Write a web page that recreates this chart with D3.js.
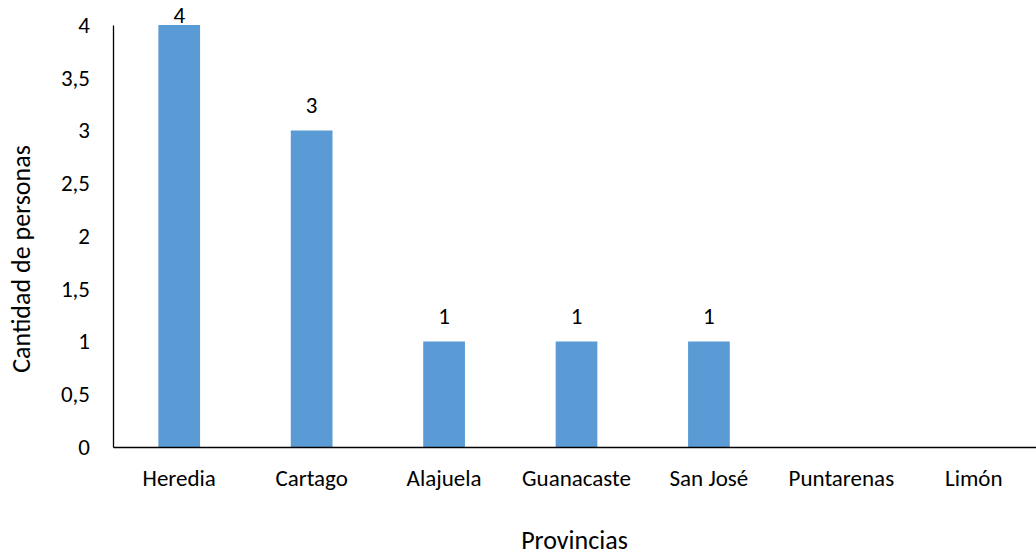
<!DOCTYPE html>
<html><head><meta charset="utf-8">
<script src="https://cdn.jsdelivr.net/npm/d3@7"></script>
<style>body{margin:0;background:#fff}svg{display:block}text{font-family:Carlito,Lato,"Open Sans",sans-serif;fill:#000}</style>
</head><body>
<script>
const categories = ["Heredia","Cartago","Alajuela","Guanacaste","San José","Puntarenas","Limón"];
const values = [4,3,1,1,1,0,0];
const yTicks = [0,0.5,1,1.5,2,2.5,3,3.5,4];
const xTitle = "Provincias";
const yTitle = "Cantidad de personas";

(function(){
const W = 1036, H = 558;
const mLeft = 113, mRight = 1040, mTop = 25, mBottom = 447;
const FF = "Carlito,Lato,'Open Sans',sans-serif";
const FS = 23, TS = 26;
const svg = d3.select("body").append("svg").attr("width", W).attr("height", H);

const x = d3.scaleBand().domain(categories).range([mLeft, mRight]).padding(0);
const y = d3.scaleLinear().domain([0, 4]).range([mBottom, mTop]);
const bw = x.bandwidth() * 0.315;

svg.selectAll("rect.bar").data(categories).join("rect")
  .attr("class","bar")
  .attr("x", (c) => x(c) + x.bandwidth()/2 - bw/2)
  .attr("width", bw)
  .attr("y", (c,i) => y(values[i]))
  .attr("height", (c,i) => y(0) - y(values[i]))
  .attr("fill", "#5B9BD5");

svg.selectAll("text.lbl").data(categories.filter((c,i) => values[i] > 0)).join("text")
  .attr("class","lbl")
  .attr("x", c => x(c) + x.bandwidth()/2)
  .attr("y", c => Math.max(y(values[categories.indexOf(c)]) - 18, 23))
  .attr("text-anchor","middle").attr("font-size", FS)
  .text(c => values[categories.indexOf(c)]);

const yAxis = d3.axisLeft(y).tickValues(yTicks).tickSize(0).tickPadding(23)
  .tickFormat(d => String(d).replace(".", ","));
const gy = svg.append("g").attr("transform", `translate(${mLeft},0)`).call(yAxis);
gy.select(".domain").attr("stroke","#000").attr("stroke-width",1.3);
gy.selectAll("text").attr("font-size", FS).style("font-family", FF);

const xAxis = d3.axisBottom(x).tickSize(0).tickPadding(23);
const gx = svg.append("g").attr("transform", `translate(0,${mBottom})`).call(xAxis);
gx.select(".domain").attr("stroke","#000").attr("stroke-width",1.3);
gx.selectAll("text").attr("font-size", FS).style("font-family", FF);

svg.append("text").attr("x", (mLeft + 1036)/2).attr("y", 549)
  .attr("text-anchor","middle").attr("font-size", TS).text(xTitle);
svg.append("text").attr("transform", `translate(30,259) rotate(-90)`)
  .attr("text-anchor","middle").attr("font-size", TS).text(yTitle);
})();
</script>
</body></html>
